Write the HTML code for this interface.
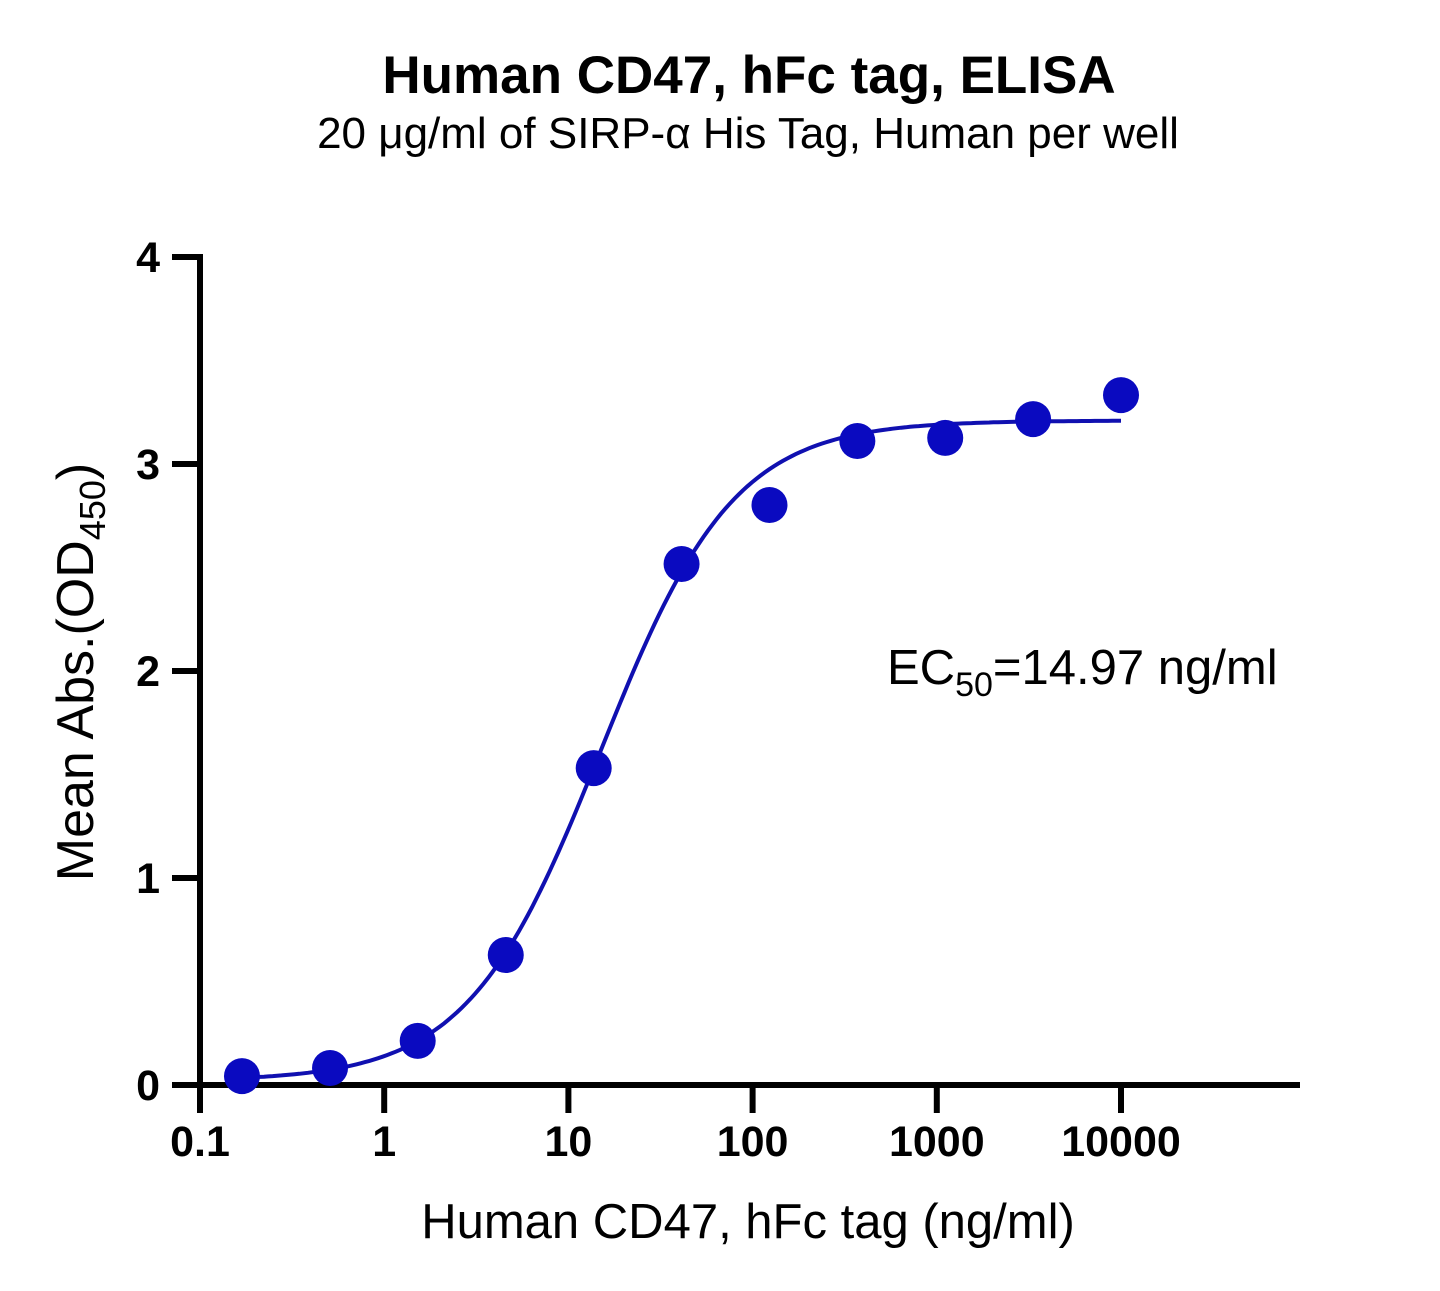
<!DOCTYPE html>
<html><head><meta charset="utf-8"><style>
body{margin:0;background:#fff;}
svg{display:block;font-family:"Liberation Sans",sans-serif;}
</style></head><body>
<svg width="1440" height="1291" viewBox="0 0 1440 1291">
<text x="749" y="93" text-anchor="middle" font-size="53" font-weight="bold">Human CD47, hFc tag, ELISA</text>
<text x="748" y="148" text-anchor="middle" font-size="44">20 μg/ml of SIRP-α His Tag, Human per well</text>
<g id="axes"></g>
<g id="marks"></g>
<text x="748" y="1238" text-anchor="middle" font-size="49">Human CD47, hFc tag (ng/ml)</text>
<text transform="translate(93,672) rotate(-90)" text-anchor="middle" font-size="52">Mean Abs.(OD<tspan font-size="36" dy="12">450</tspan><tspan dy="-12">)</tspan></text>
<text x="887" y="684" font-size="49">EC<tspan font-size="34" dy="12">50</tspan><tspan dy="-12">=14.97 ng/ml</tspan></text>
</svg>
<script>
const concentrations=[0.169,0.508,1.52,4.57,13.72,41.15,123.5,370.4,1111,3333,10000];
const absorbances=[0.043,0.082,0.213,0.628,1.531,2.517,2.802,3.111,3.126,3.217,3.333];
const xTicks=[0.1,1,10,100,1000,10000];
const xTickLabels=["0.1","1","10","100","1000","10000"];
const yTicks=[0,1,2,3,4];
const yTickLabels=["0","1","2","3","4"];
const fitBottom=0.02, fitTop=3.21, fitEC50=14.97, fitHill=1.2;
const NS="http://www.w3.org/2000/svg";
function xs(v){return 200+(Math.log10(v)+1)*184.2;}
function ys(v){return 1085-v*207;}
function mk(t,a,p){const e=document.createElementNS(NS,t);for(const k in a)e.setAttribute(k,a[k]);p.appendChild(e);return e;}
const axes=document.getElementById('axes'),marks=document.getElementById('marks');
let l=mk('line',{x1:200,y1:ys(4)-3,x2:200,y2:1088,stroke:'#000','stroke-width':6},axes);


l=mk('line',{x1:172,y1:1085,x2:1300,y2:1085,stroke:'#000','stroke-width':6},axes);


yTicks.forEach((v,i)=>{
 let t=mk('line',{x1:172,y1:ys(v),x2:200,y2:ys(v),stroke:'#000','stroke-width':6},axes);
 
 
 let tx=mk('text',{x:160,y:ys(v)+15,'text-anchor':'end','font-size':43,'font-weight':'bold'},axes);
 tx.textContent=yTickLabels[i];
 
 
});
xTicks.forEach((v,i)=>{
 let t=mk('line',{x1:xs(v),y1:1085,x2:xs(v),y2:1113,stroke:'#000','stroke-width':6},axes);
 
 
 let tx=mk('text',{x:xs(v),y:1156,'text-anchor':'middle','font-size':43,'font-weight':'bold'},axes);
 tx.textContent=xTickLabels[i];
 
 
});
let d='';
const lo=Math.log10(concentrations[0]),hi=Math.log10(concentrations[concentrations.length-1]);
for(let k=0;k<=200;k++){const lx=lo+(hi-lo)*k/200,x=Math.pow(10,lx);
 const y=fitBottom+(fitTop-fitBottom)/(1+Math.pow(fitEC50/x,fitHill));
 d+=(k?'L':'M')+xs(x).toFixed(1)+','+ys(y).toFixed(1);}
let c=mk('path',{d:d,fill:'none',stroke:'#1010b0','stroke-width':4},marks);


concentrations.forEach((v,i)=>{
 let p=mk('circle',{cx:xs(v),cy:ys(absorbances[i]),r:18,fill:'#0a0ac0'},marks);
 
 
});
</script>
</body></html>
